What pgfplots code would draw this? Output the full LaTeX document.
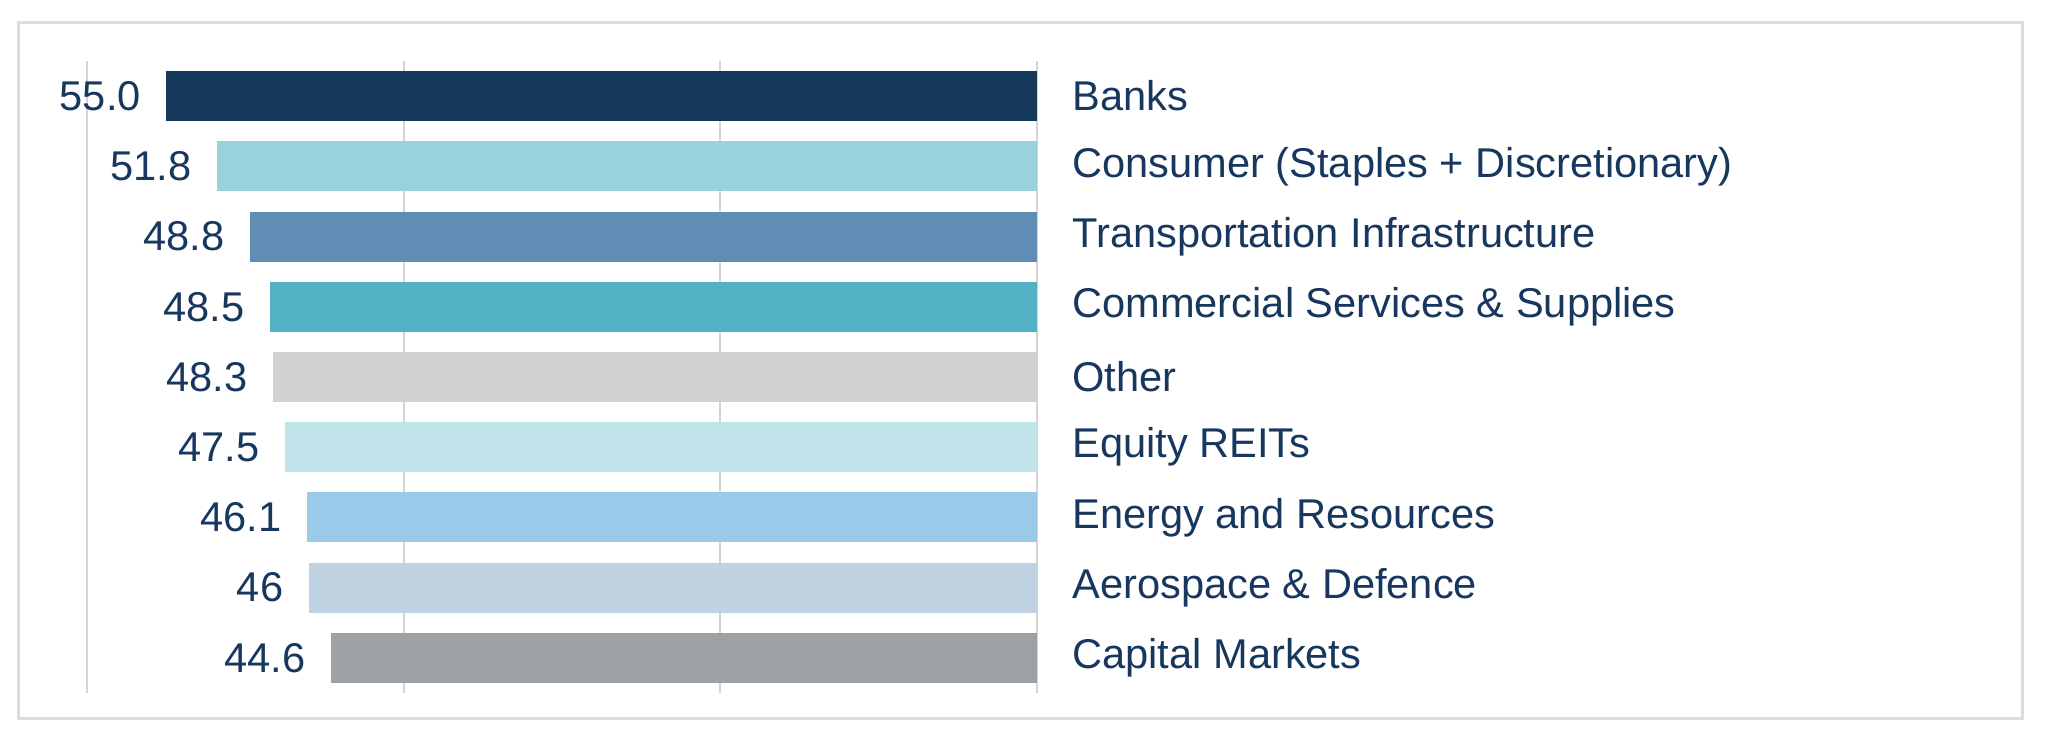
\documentclass[border=0pt]{standalone}
\usepackage{pgfplots}
\pgfplotsset{compat=1.18}
\usepackage{fontspec}
\setmainfont{Liberation Sans}
\definecolor{txt}{HTML}{17375E}
\definecolor{cA}{HTML}{15395B}
\definecolor{cB}{HTML}{99D1DC}
\definecolor{cC}{HTML}{608DB5}
\definecolor{cD}{HTML}{53B1C6}
\definecolor{cE}{HTML}{D0D1D3}
\definecolor{cF}{HTML}{C1E3EA}
\definecolor{cG}{HTML}{9ACAEA}
\definecolor{cH}{HTML}{C0D1E1}
\definecolor{cI}{HTML}{9EA1A3}
\definecolor{framec}{HTML}{DCDCDC}
\definecolor{gridc}{HTML}{D4D4D4}
\definecolor{axisc}{HTML}{A6A6A6}
\begin{document}
\begin{tikzpicture}
\path[use as bounding box] (0,0) rectangle (1024bp,376bp);
\draw[color=framec, line width=1.5bp] (9bp,16.5bp) rectangle (1011bp,364.5bp);
\begin{axis}[
  at={(43.5bp,29.5bp)}, anchor=south west,
  scale only axis, width=475bp, height=316bp,
  xbar, bar width=25bp, bar shift=0pt,
  xmin=0, xmax=60, x dir=reverse,
  ymin=-0.5, ymax=8.5, y dir=reverse,
  xtick={20,40,60}, xticklabels={},
  xmajorgrids, major grid style={color=gridc, line width=1bp},
  extra x ticks={0}, extra x tick labels={},
  extra x tick style={grid style={color=axisc, line width=1bp}},
  ytick={0,...,8},
  yticklabels={Banks, Consumer (Staples + Discretionary), Transportation Infrastructure, Commercial Services \& Supplies, Other, Equity REITs, Energy and Resources, Aerospace \& Defence, Capital Markets},
  yticklabel pos=right,
  major tick length=0pt,
  axis line style={draw=none},
  tick label style={font=\fontsize{20.8bp}{24bp}\selectfont, text=txt},
  yticklabel style={anchor=west, inner sep=0pt, xshift=17.5bp},
  point meta=explicit symbolic,
  nodes near coords,
  nodes near coords style={anchor=east, inner sep=0pt, xshift=-12.5bp, font=\fontsize{20.8bp}{24bp}\selectfont, text=txt},
]
\addplot[fill=cA, draw=none] coordinates {(55.0,0) [55.0]};
\addplot[fill=cB, draw=none] coordinates {(51.8,1) [51.8]};
\addplot[fill=cC, draw=none] coordinates {(49.7,2) [48.8]};
\addplot[fill=cD, draw=none] coordinates {(48.45,3) [48.5]};
\addplot[fill=cE, draw=none] coordinates {(48.25,4) [48.3]};
\addplot[fill=cF, draw=none] coordinates {(47.5,5) [47.5]};
\addplot[fill=cG, draw=none] coordinates {(46.1,6) [46.1]};
\addplot[fill=cH, draw=none] coordinates {(46,7) [46]};
\addplot[fill=cI, draw=none] coordinates {(44.6,8) [44.6]};
\end{axis}
\end{tikzpicture}
\end{document}
